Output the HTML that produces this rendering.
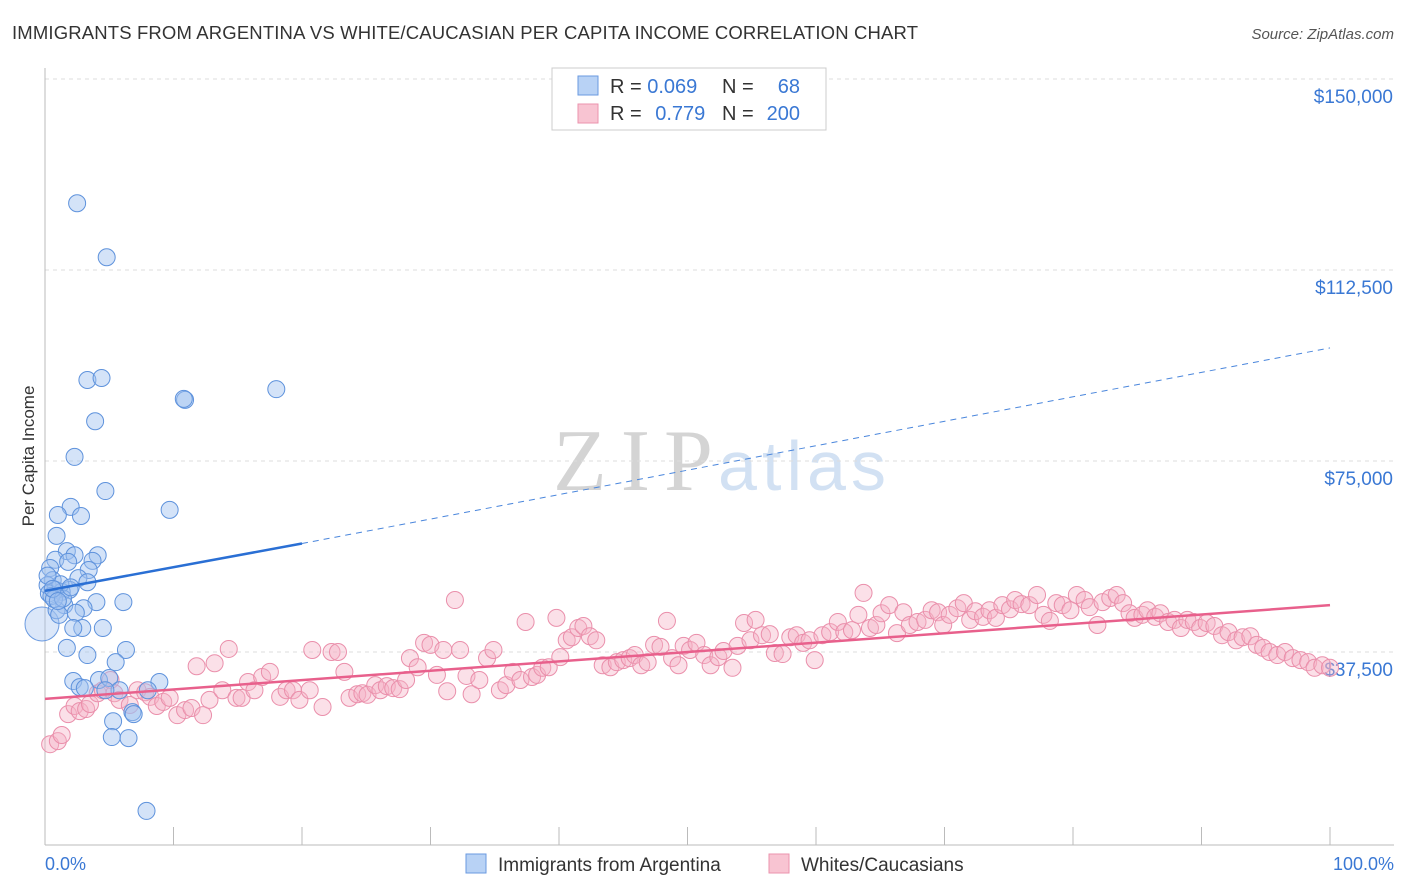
<!DOCTYPE html>
<html><head><meta charset="utf-8">
<style>
body{margin:0;background:#fff;font-family:"Liberation Sans",sans-serif;}
svg{display:block}
</style></head>
<body>
<svg id="chart" width="1406" height="892" xmlns="http://www.w3.org/2000/svg">
<text x="12" y="39" font-size="18.5" fill="#333" textLength="906">IMMIGRANTS FROM ARGENTINA VS WHITE/CAUCASIAN PER CAPITA INCOME CORRELATION CHART</text>
<text x="1394" y="39" font-size="15" fill="#555" font-style="italic" text-anchor="end">Source: ZipAtlas.com</text>
<text transform="translate(34,456) rotate(-90)" font-size="17" fill="#333" text-anchor="middle">Per Capita Income</text>
<g>
<text x="553" y="490" font-size="88" fill="#d4d4d4" font-family="Liberation Serif,serif" textLength="160">ZIP</text>
<text x="718" y="490" font-size="70" fill="#d2e1f3" textLength="168">atlas</text>
</g>
<g id="grid"></g>
<g id="axes"></g>
<g id="marks"></g>
<g>
<rect x="552" y="68" width="274" height="62" fill="#fff" stroke="#ccc"/>
<rect x="578" y="76" width="20" height="19" fill="#b8d2f5" stroke="#6a9ae0"/>
<rect x="578" y="104" width="20" height="19" fill="#f8c4d2" stroke="#eb93ae"/>
<text x="610" y="93" font-size="20" fill="#333">R = <tspan fill="#3a78d4">0.069</tspan></text>
<text x="722" y="93" font-size="20" fill="#333">N = </text><text x="800" y="93" font-size="20" fill="#3a78d4" text-anchor="end">68</text>
<text x="610" y="120" font-size="20" fill="#333">R = <tspan fill="#3a78d4" dx="8">0.779</tspan></text>
<text x="722" y="120" font-size="20" fill="#333">N = </text><text x="800" y="120" font-size="20" fill="#3a78d4" text-anchor="end">200</text>
</g>
<g>
<rect x="466" y="854" width="20" height="19" fill="#b8d2f5" stroke="#6a9ae0"/>
<text x="498" y="871" font-size="19" fill="#333">Immigrants from Argentina</text>
<rect x="769" y="854" width="20" height="19" fill="#f8c4d2" stroke="#eb93ae"/>
<text x="801" y="871" font-size="19" fill="#333">Whites/Caucasians</text>
</g>
<text x="45" y="870" font-size="18" fill="#3a78d4">0.0%</text>
<text x="1394" y="870" font-size="18" fill="#3a78d4" text-anchor="end">100.0%</text>
</svg>
<script>
const yTicks=[37500,75000,112500,150000];
const yTickLabels=["$37,500","$75,000","$112,500","$150,000"];
const blueX=[2.5,4.8,3.3,4.4,10.9,10.8,18,3.9,2.3,4.7,9.7,2,1,2.8,0.9,1.7,2.3,4.1,0.8,1.8,3.7,3.4,0.4,2.6,3.3,0.6,0.2,0.8,1.9,1.3,4,6.1,1.5,3,0.9,1.1,2.4,4.5,2.9,2.2,1.7,6.3,3.3,5.5,2.2,4.2,8.9,2.7,3.1,5,5.8,8,4.7,6.8,6.9,5.3,5.2,6.5,7.9,0.3,0.5,1.2,0.7,1.4,2.0,0.2,0.6,1.0];
const blueY=[125.6,115,90.9,91.3,87,87.2,89.1,82.8,75.8,69.1,65.4,66,64.4,64.2,60.3,57.3,56.5,56.5,55.6,55.2,55.4,53.6,54,52,51.2,51.6,50.6,49.7,49.7,49.3,47.3,47.3,46.7,46.1,45.7,44.8,45.2,42.2,42.2,42.2,38.3,37.9,36.9,35.5,31.8,32,31.6,30.6,30.4,32.4,30,30,30,25.7,25.3,23.9,20.8,20.6,6.3,49,48.5,50.8,47.9,48,50.2,52.5,49.9,47.5];
const pinkX=[0.4,1.0,1.3,1.8,2.3,2.7,3.2,3.5,4.1,4.5,5.1,5.4,5.8,6.6,7.2,7.8,8.2,8.7,9.2,9.7,10.3,10.9,11.4,11.8,12.3,12.8,13.2,13.8,14.3,14.9,15.3,15.8,16.3,16.9,17.5,18.3,18.8,19.3,19.8,20.6,20.8,21.6,22.3,22.8,23.3,23.7,24.3,24.7,25.1,25.7,26.1,26.6,27.1,27.6,28.1,28.4,29.0,29.5,30.0,30.5,31.0,31.3,31.9,32.3,32.8,33.2,33.8,34.4,34.9,35.4,35.9,36.4,37.0,37.4,37.9,38.3,38.7,39.2,39.8,40.1,40.6,41.0,41.5,41.9,42.4,42.9,43.4,44.0,44.5,45.0,45.5,45.9,46.4,46.9,47.4,47.9,48.4,48.8,49.3,49.7,50.2,50.7,51.3,51.8,52.4,52.8,53.5,53.9,54.4,54.9,55.3,55.8,56.4,56.8,57.4,58.0,58.5,59.0,59.5,59.9,60.5,61.1,61.7,62.2,62.8,63.3,63.7,64.2,64.7,65.1,65.7,66.3,66.8,67.3,67.9,68.5,69.0,69.5,69.9,70.4,71.0,71.5,72.0,72.4,73.0,73.5,74.0,74.5,75.1,75.5,76.0,76.6,77.2,77.7,78.2,78.7,79.2,79.8,80.3,80.9,81.3,81.9,82.3,82.9,83.4,83.9,84.4,84.8,85.4,85.8,86.4,86.8,87.4,87.9,88.4,88.9,89.4,89.9,90.4,91.0,91.6,92.1,92.7,93.2,93.8,94.3,94.8,95.3,95.9,96.5,97.1,97.7,98.3,98.8,99.4,100];
const pinkY=[19.4,20.0,21.2,25.3,26.9,25.9,26.3,27.3,29.4,30.0,32.0,29.4,28.1,27.1,30.0,29.6,28.7,26.9,27.7,28.5,25.1,26.1,26.5,34.7,25.1,28.1,35.3,30.0,38.1,28.5,28.5,31.6,30.0,32.6,33.6,28.7,30.0,30.0,28.1,30.0,37.9,26.7,37.5,37.5,33.6,28.5,29.2,29.4,29.1,31.0,30.0,30.8,30.4,30.2,32.0,36.3,34.5,39.3,38.9,33.0,37.9,29.8,47.7,37.9,32.8,29.2,32.0,36.3,37.9,30.0,31.0,33.6,32.0,43.4,32.6,33.0,34.4,34.5,44.2,36.5,39.8,40.4,42.2,42.6,40.6,39.8,34.9,34.5,35.5,35.9,36.3,36.9,34.9,35.5,38.9,38.5,43.6,36.3,34.9,38.7,37.9,39.3,36.9,34.9,36.5,37.7,34.4,38.7,43.2,39.8,43.8,40.8,41.0,37.3,37.1,40.4,40.8,39.3,39.8,35.9,40.8,41.4,43.4,41.4,41.8,44.8,49.1,42.2,42.8,45.1,46.7,41.2,45.3,42.8,43.4,43.8,45.7,45.3,42.8,44.8,46.1,47.1,43.8,45.5,44.4,45.7,44.2,46.7,45.9,47.7,46.9,46.7,48.7,44.8,43.6,47.1,46.7,45.7,48.7,47.7,46.3,42.8,47.3,48.1,48.7,47.1,45.1,44.2,44.8,45.7,44.4,45.1,43.4,43.8,42.2,43.8,43.4,42.2,43.2,42.6,40.8,41.4,39.8,40.4,40.6,38.9,38.3,37.5,36.9,37.5,36.3,35.9,35.5,34.4,34.9,34.4];
const blueTrend=[[0,49.5],[20,58.8],[100,97.2]];
const pinkTrend=[[0,28.3],[100,46.7]];
const NS="http://www.w3.org/2000/svg";
const X0=45,X1=1330,YB=843,PX_PER_K=191/37.5;
function sx(p){return X0+(X1-X0)*p/100;}
function sy(k){return YB-k*PX_PER_K;}
function mk(tag,attrs,parent){const e=document.createElementNS(NS,tag);for(const k in attrs)e.setAttribute(k,attrs[k]);parent.appendChild(e);return e;}
const grid=document.getElementById('grid'),axes=document.getElementById('axes'),marks=document.getElementById('marks');
yTicks.forEach((v,i)=>{
 const y=sy(v/1000);
 const l=mk('line',{x1:45,x2:1394,y1:y,y2:y,stroke:'#ddd','stroke-dasharray':'4,4'},grid);
 
 
 const t=mk('text',{x:1393,y:y+24,'font-size':19,fill:'#3a78d4','text-anchor':'end'},axes);
 t.textContent=yTickLabels[i];
 
 
});
const ax=mk('line',{x1:45,x2:45,y1:68,y2:845,stroke:'#bbb'},axes);


const bx=mk('line',{x1:45,x2:1394,y1:845,y2:845,stroke:'#bbb'},axes);


for(let i=0;i<=10;i++){const x=sx(i*10);const t=mk('line',{x1:x,x2:x,y1:827,y2:845,stroke:'#bbb'},axes);
 
 }
const big=mk('circle',{cx:sx(0)-3,cy:sy(43),r:17,fill:'rgba(164,196,240,0.4)',stroke:'#6a9ae0','stroke-width':1},marks);


pinkX.forEach((x,i)=>{const c=mk('circle',{cx:sx(x),cy:sy(pinkY[i]),r:8.5,fill:'rgba(246,178,198,0.4)',stroke:'#ea8fab','stroke-width':1},marks);
 
 });
blueX.forEach((x,i)=>{const c=mk('circle',{cx:sx(x),cy:sy(blueY[i]),r:8.5,fill:'rgba(160,194,240,0.45)',stroke:'#5e92dc','stroke-width':1},marks);
 
 });
const b1=mk('line',{x1:sx(blueTrend[0][0]),y1:sy(blueTrend[0][1]),x2:sx(blueTrend[1][0]),y2:sy(blueTrend[1][1]),stroke:'#2a6fd4','stroke-width':2.5},marks);


const b2=mk('line',{x1:sx(blueTrend[1][0]),y1:sy(blueTrend[1][1]),x2:sx(blueTrend[2][0]),y2:sy(blueTrend[2][1]),stroke:'#4a86dc','stroke-width':1,'stroke-dasharray':'6,5'},marks);


const p1=mk('line',{x1:sx(pinkTrend[0][0]),y1:sy(pinkTrend[0][1]),x2:sx(pinkTrend[1][0]),y2:sy(pinkTrend[1][1]),stroke:'#e8608c','stroke-width':2.5},marks);


</script>
</body></html>
